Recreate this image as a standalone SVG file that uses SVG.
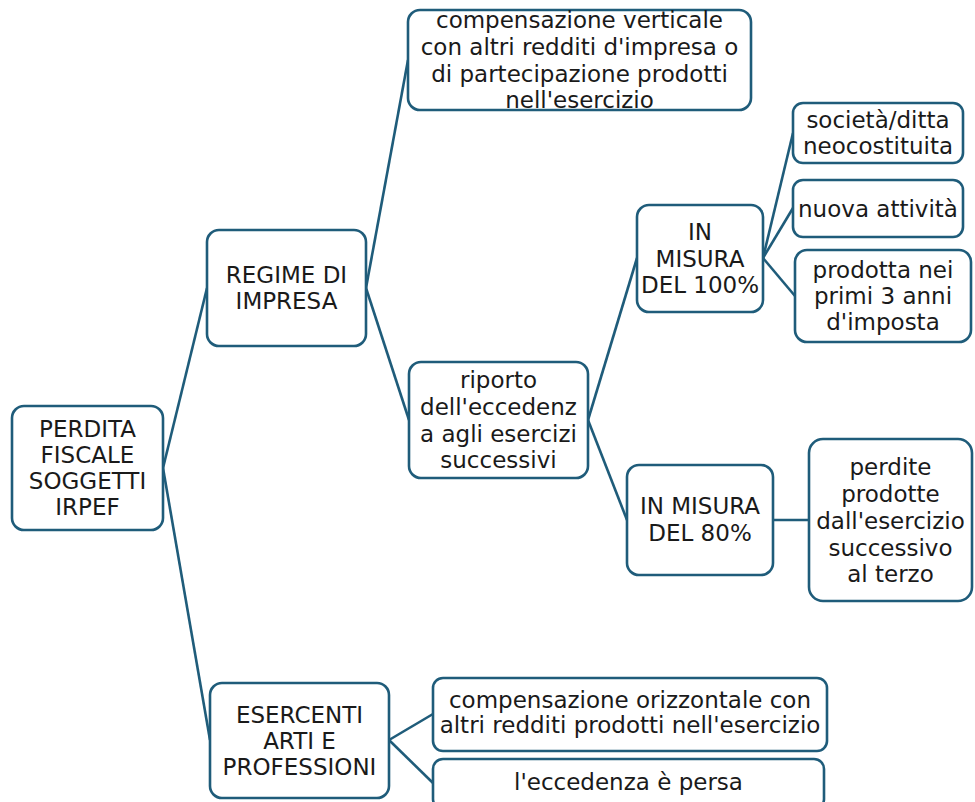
<svg xmlns="http://www.w3.org/2000/svg" width="975" height="802" viewBox="0 0 975 802">
<style>
.box{fill:#ffffff;stroke:#1F5C7A;stroke-width:2.6}
.ln{stroke:#1F5C7A;stroke-width:2.6;fill:none}
.t{font-family:"DejaVu Sans","Liberation Sans",sans-serif;font-size:23px;fill:#1a1a1a;text-anchor:middle}
</style>
<rect width="975" height="802" fill="#ffffff"/>
<g id="connectors">
<line class="ln" x1="163" y1="468" x2="207" y2="288"/>
<line class="ln" x1="163" y1="468" x2="210" y2="740"/>
<line class="ln" x1="366" y1="288" x2="408" y2="60"/>
<line class="ln" x1="366" y1="288" x2="409" y2="420"/>
<line class="ln" x1="588" y1="420" x2="637" y2="258"/>
<line class="ln" x1="588" y1="420" x2="627" y2="520"/>
<line class="ln" x1="763" y1="258" x2="793" y2="133"/>
<line class="ln" x1="763" y1="258" x2="793" y2="208"/>
<line class="ln" x1="763" y1="258" x2="795" y2="296"/>
<line class="ln" x1="773" y1="520" x2="809" y2="520"/>
<line class="ln" x1="389" y1="740" x2="433" y2="714"/>
<line class="ln" x1="389" y1="740" x2="433" y2="783"/>
</g>
<g id="n1"><rect class="box" x="12" y="406" width="151" height="124" rx="12"/>
<text class="t"><tspan x="87.5" y="437">PERDITA</tspan><tspan x="87.5" y="463">FISCALE</tspan><tspan x="87.5" y="489">SOGGETTI</tspan><tspan x="87.5" y="515">IRPEF</tspan></text></g>
<g id="n2"><rect class="box" x="207" y="230" width="159" height="116" rx="12"/>
<text class="t"><tspan x="286.5" y="283">REGIME DI</tspan><tspan x="286.5" y="309">IMPRESA</tspan></text></g>
<g id="n3"><rect class="box" x="408" y="10" width="343" height="100" rx="12"/>
<text class="t"><tspan x="579.5" y="28">compensazione verticale</tspan><tspan x="579.5" y="55">con altri redditi d'impresa o</tspan><tspan x="579.5" y="82">di partecipazione prodotti</tspan><tspan x="579.5" y="108">nell'esercizio</tspan></text></g>
<g id="n4"><rect class="box" x="409" y="362" width="179" height="116" rx="12"/>
<text class="t"><tspan x="498.5" y="388">riporto</tspan><tspan x="498.5" y="415">dell'eccedenz</tspan><tspan x="498.5" y="442">a agli esercizi</tspan><tspan x="498.5" y="468">successivi</tspan></text></g>
<g id="n5"><rect class="box" x="637" y="205" width="126" height="107" rx="12"/>
<text class="t"><tspan x="700" y="240">IN</tspan><tspan x="700" y="267">MISURA</tspan><tspan x="700" y="293">DEL 100%</tspan></text></g>
<g id="n6"><rect class="box" x="793" y="103" width="170" height="60" rx="10"/>
<text class="t"><tspan x="878" y="128">società/ditta</tspan><tspan x="878" y="154">neocostituita</tspan></text></g>
<g id="n7"><rect class="box" x="793" y="180" width="170" height="57" rx="10"/>
<text class="t"><tspan x="878" y="217">nuova attività</tspan></text></g>
<g id="n8"><rect class="box" x="795" y="250" width="176" height="92" rx="12"/>
<text class="t"><tspan x="883" y="278">prodotta nei</tspan><tspan x="883" y="304">primi 3 anni</tspan><tspan x="883" y="330">d'imposta</tspan></text></g>
<g id="n9"><rect class="box" x="627" y="465" width="146" height="110" rx="12"/>
<text class="t"><tspan x="700" y="514">IN MISURA</tspan><tspan x="700" y="541">DEL 80%</tspan></text></g>
<g id="n10"><rect class="box" x="809" y="439" width="163" height="162" rx="14"/>
<text class="t"><tspan x="890.5" y="475">perdite</tspan><tspan x="890.5" y="502">prodotte</tspan><tspan x="890.5" y="529">dall'esercizio</tspan><tspan x="890.5" y="556">successivo</tspan><tspan x="890.5" y="582">al terzo</tspan></text></g>
<g id="n11"><rect class="box" x="210" y="683" width="179" height="115" rx="12"/>
<text class="t"><tspan x="299.5" y="723">ESERCENTI</tspan><tspan x="299.5" y="749">ARTI E</tspan><tspan x="299.5" y="775">PROFESSIONI</tspan></text></g>
<g id="n12"><rect class="box" x="433" y="678" width="394" height="73" rx="10"/>
<text class="t"><tspan x="630" y="708">compensazione orizzontale con</tspan><tspan x="630" y="733">altri redditi prodotti nell'esercizio</tspan></text></g>
<g id="n13"><rect class="box" x="433" y="759" width="391" height="50" rx="10"/>
<text class="t"><tspan x="628.5" y="790">l'eccedenza è persa</tspan></text></g>
</svg>
